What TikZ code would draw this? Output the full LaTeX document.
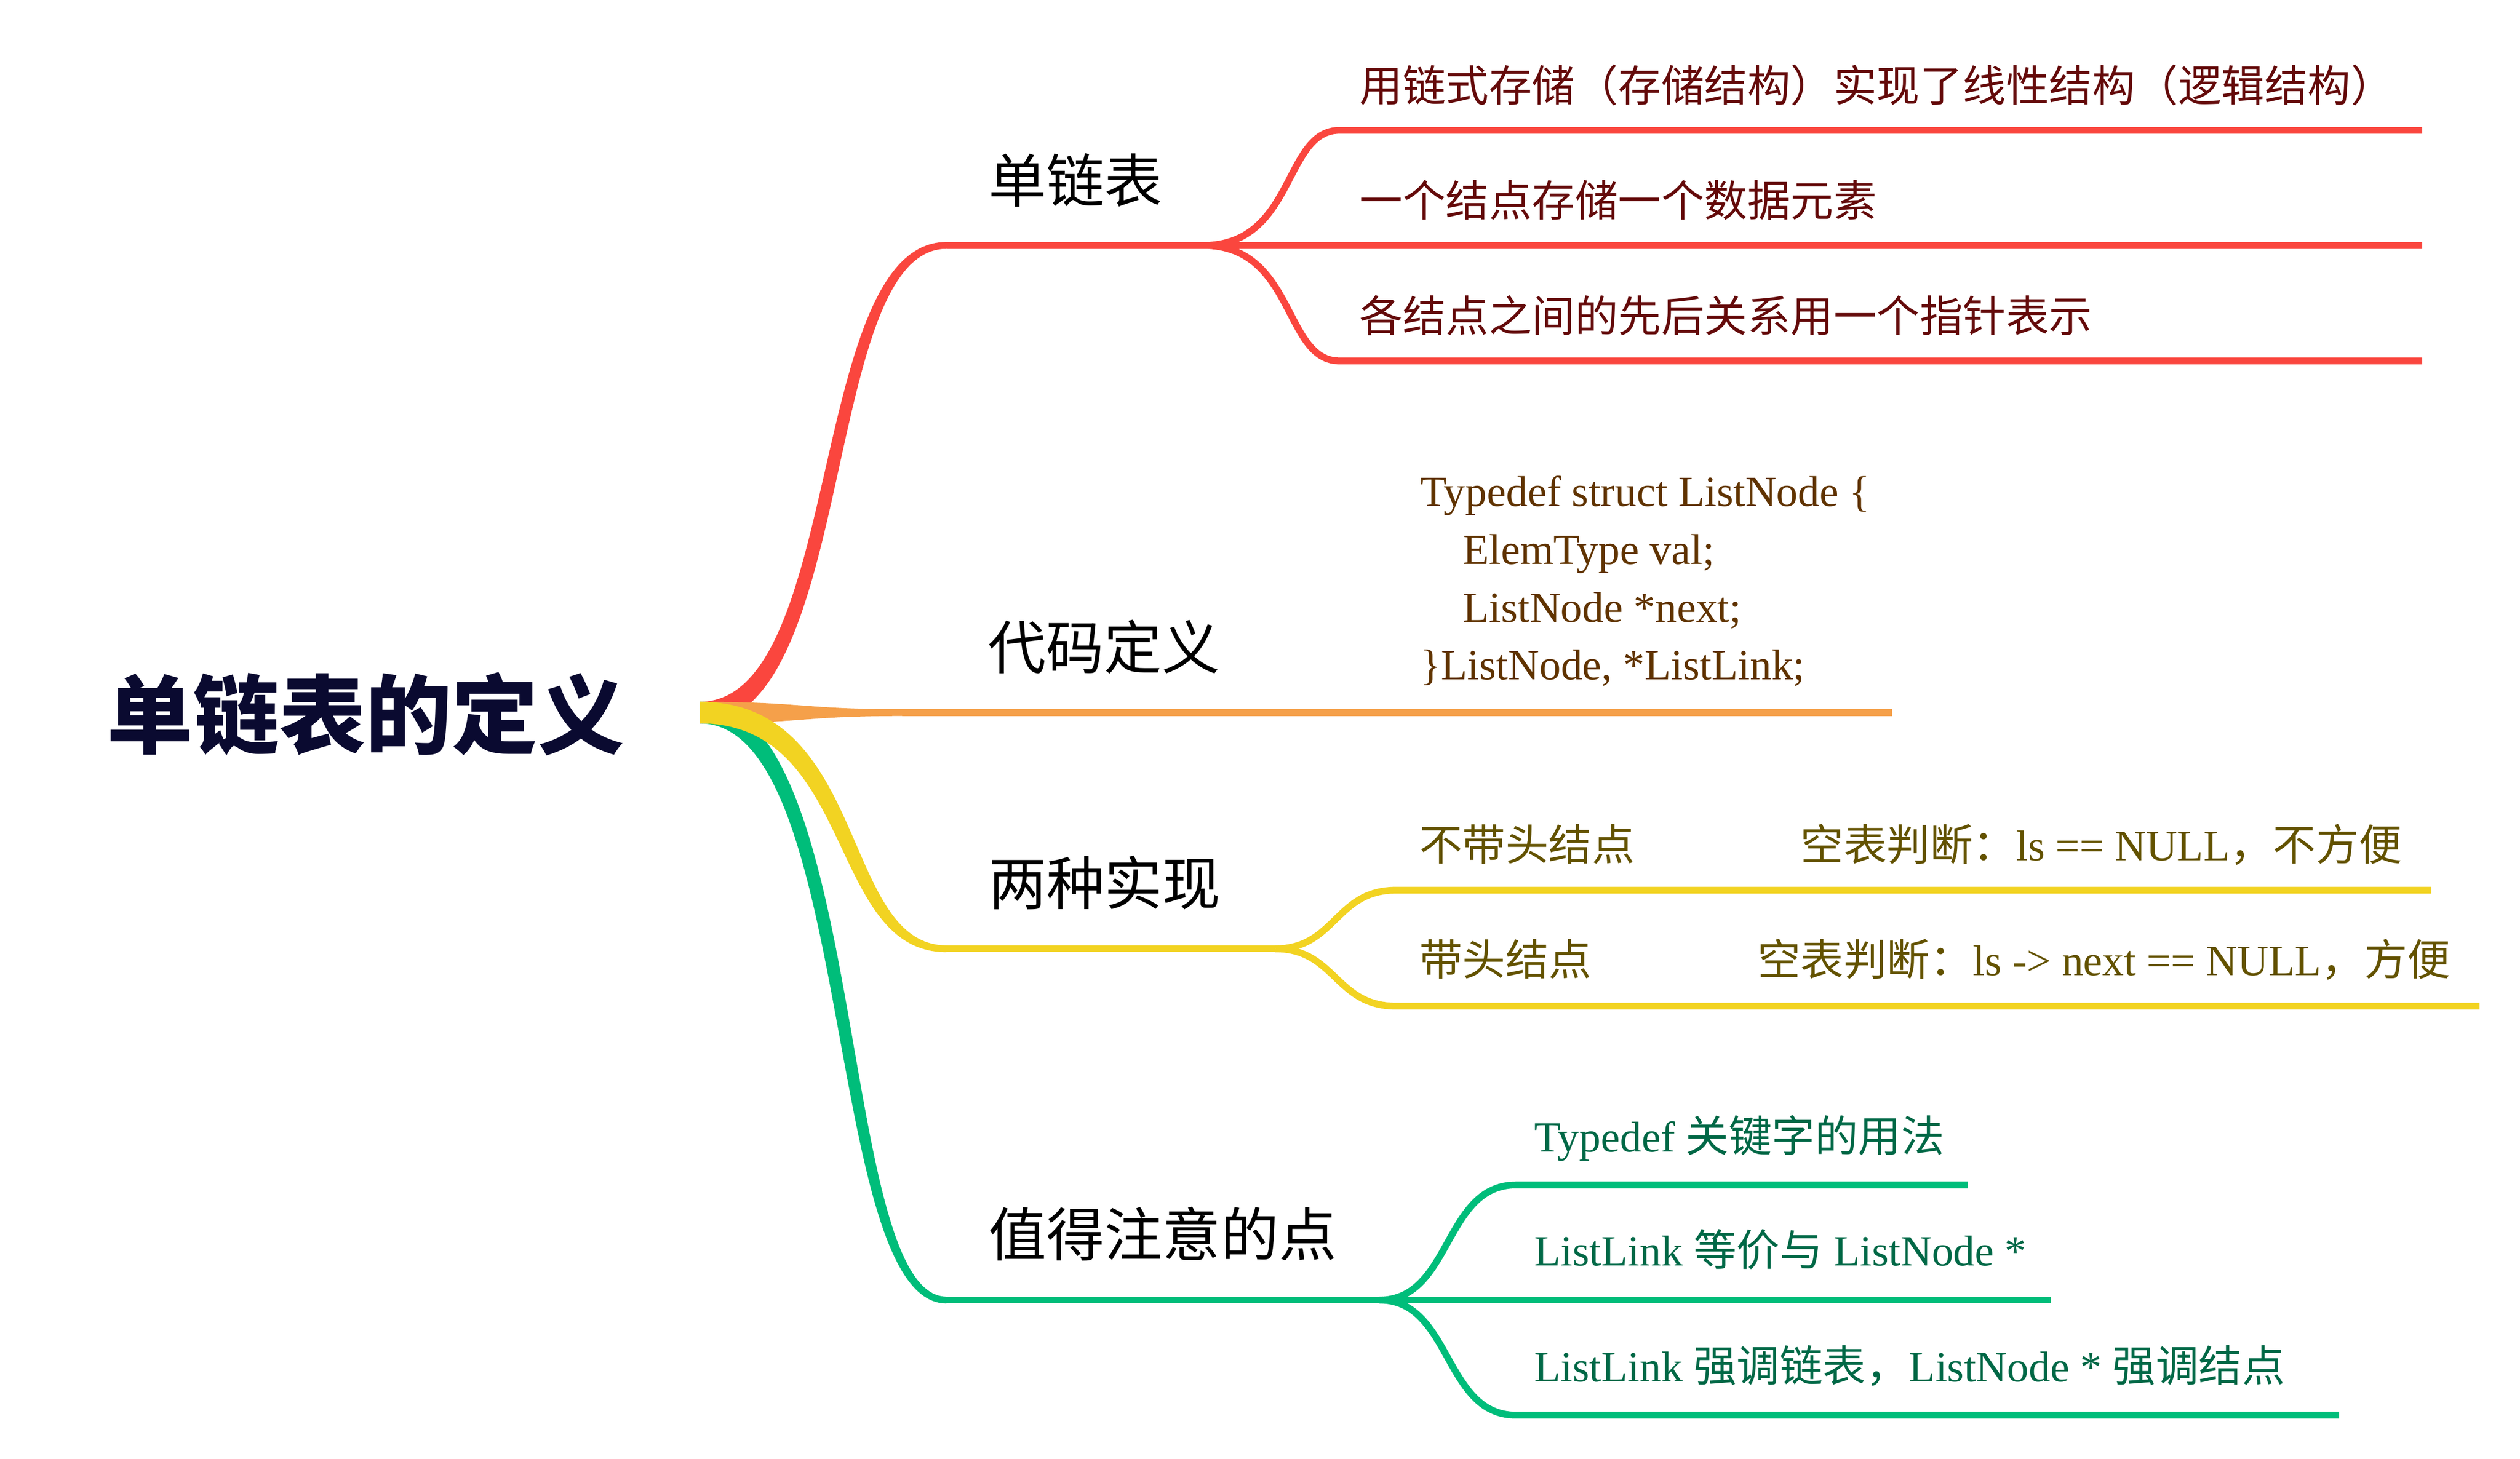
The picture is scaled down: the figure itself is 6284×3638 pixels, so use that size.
\documentclass[tikz,border=0pt]{standalone}
\usepackage{fontspec}
\setmainfont{Liberation Serif}
\newfontfamily\cjk{Noto Sans CJK SC}
\usetikzlibrary{calc}
\definecolor{redbr}{RGB}{250,70,62}
\definecolor{orangebr}{RGB}{245,160,74}
\definecolor{yellowbr}{RGB}{242,211,34}
\definecolor{greenbr}{RGB}{0,189,122}
\definecolor{rootink}{RGB}{10,10,48}
\definecolor{redink}{RGB}{100,10,10}
\definecolor{codeink}{RGB}{96,51,0}
\definecolor{oliveink}{RGB}{99,82,0}
\definecolor{greenink}{RGB}{0,104,70}
\tikzstyle{topic}=[anchor=base west, inner sep=0pt, text=rootink, font=\cjk\bfseries\fontsize{30.6pt}{36pt}\selectfont]
\tikzstyle{main}=[anchor=base west, inner sep=0pt, text=black, font=\cjk\fontsize{20.6pt}{24pt}\selectfont]
\tikzstyle{leaf}=[anchor=base west, inner sep=0pt, font=\fontsize{15.3pt}{20pt}\selectfont]
\tikzstyle{limb}=[line width=0.085cm]
% tapered branch: colour, from, to, first control dx, second control dx, side shift
\newcommand{\taper}[6]{%
  \fill[#1] ($(#2)+(0,-27)$) .. controls ($(#2)+({#4-(#6)},-27)$) and ($(#3)+({-#5-(#6)},-8.5)$) .. ($(#3)+(0,-8.5)$)
    -- ($(#3)+(0,8.5)$) .. controls ($(#3)+({-#5+(#6)},8.5)$) and ($(#2)+({#4+(#6)},27)$) .. ($(#2)+(0,27)$) -- cycle;}

\begin{document}
\begin{tikzpicture}[x=0.005cm,y=-0.005cm]
\useasboundingbox (0,0) rectangle (6284,3638);

\node[topic] (topic) at (266,1863) {单链表的定义};
\coordinate (root) at (1745,1777);

% red branch
\coordinate (r0) at (2360,612);
\coordinate (rhub) at (3000,612);
\coordinate (ra) at (3340,325);  \coordinate (raend) at (6040,325);
\coordinate (rbend) at (6040,612);
\coordinate (rc) at (3340,900);  \coordinate (rcend) at (6040,900);
\taper{redbr}{root}{r0}{375}{330}{17}
\draw[limb,redbr] (r0) -- (rhub) -- (rbend);
\draw[limb,redbr] (rhub) .. controls +(230,0) and +(-140,0) .. (ra) -- (raend);
\draw[limb,redbr] (rhub) .. controls +(230,0) and +(-140,0) .. (rc) -- (rcend);
\node[main] (lbl-list) at (2464,504) {单链表};
\node[leaf,text=redink] (r-leaf1) at (3389,253) {\cjk 用链式存储（存储结构）实现了线性结构（逻辑结构）};
\node[leaf,text=redink] (r-leaf2) at (3389,540) {\cjk 一个结点存储一个数据元素};
\node[leaf,text=redink] (r-leaf3) at (3389,828) {\cjk 各结点之间的先后关系用一个指针表示};

% orange branch
\coordinate (o1) at (2250,1777);
\coordinate (oend) at (4718,1777);
\fill[orangebr] ($(root)+(0,-27)$) .. controls ($(root)+(255,-27)$) and ($(o1)+(-250,-8.5)$) .. ($(o1)+(0,-8.5)$)
  -- ($(o1)+(0,8.5)$) .. controls ($(o1)+(-250,8.5)$) and ($(root)+(255,27)$) .. ($(root)+(0,27)$) -- cycle;
\draw[limb,orangebr] (o1) -- (oend);
\node[main] (lbl-code) at (2462,1668) {代码定义};
\node[leaf,text=codeink] (code1) at (3541,1263) {Typedef struct ListNode \{};
\node[leaf,text=codeink] (code2) at (3646,1407) {ElemType val;};
\node[leaf,text=codeink] (code3) at (3646,1551) {ListNode *next;};
\node[leaf,text=codeink] (code4) at (3541,1695) {\}ListNode, *ListLink;};

% green branch
\coordinate (g0) at (2360,3242);
\coordinate (ghub) at (3440,3242);
\coordinate (ga) at (3780,2955);  \coordinate (gaend) at (4907,2955);
\coordinate (gbend) at (5114,3242);
\coordinate (gc) at (3780,3529);  \coordinate (gcend) at (5833,3529);
\taper{greenbr}{root}{g0}{405}{290}{-17}
\draw[limb,greenbr] (g0) -- (ghub) -- (gbend);
\draw[limb,greenbr] (ghub) .. controls +(180,0) and +(-180,0) .. (ga) -- (gaend);
\draw[limb,greenbr] (ghub) .. controls +(180,0) and +(-180,0) .. (gc) -- (gcend);
\node[main] (lbl-note) at (2464,3132) {值得注意的点};
\node[leaf,text=greenink] (g-leaf1) at (3825,2872) {Typedef {\cjk 关键字的用法}};
\node[leaf,text=greenink] (g-leaf2) at (3825,3157) {ListLink {\cjk 等价与} ListNode *};
\node[leaf,text=greenink] (g-leaf3) at (3825,3446) {ListLink {\cjk 强调链表，}ListNode * {\cjk 强调结点}};

% yellow branch
\coordinate (y0) at (2360,2366);
\coordinate (yhub) at (3180,2366);
\coordinate (ya) at (3480,2220);  \coordinate (yaend) at (6063,2220);
\coordinate (yb) at (3480,2509);  \coordinate (ybend) at (6183,2509);
\taper{yellowbr}{root}{y0}{405}{280}{-17}
\draw[limb,yellowbr] (y0) -- (yhub);
\draw[limb,yellowbr] (yhub) .. controls +(150,0) and +(-150,0) .. (ya) -- (yaend);
\draw[limb,yellowbr] (yhub) .. controls +(150,0) and +(-150,0) .. (yb) -- (ybend);
\node[main] (lbl-two) at (2464,2257) {两种实现};
\node[leaf,text=oliveink] (y-leaf1) at (3538,2146) {{\cjk 不带头结点}\hspace{3.85em}{\cjk 空表判断：}ls == NULL{\cjk ，不方便}};
\node[leaf,text=oliveink] (y-leaf2) at (3538,2432) {{\cjk 带头结点}\hspace{3.85em}{\cjk 空表判断：}ls -> next == NULL{\cjk ，方便}};
\end{tikzpicture}
\end{document}
